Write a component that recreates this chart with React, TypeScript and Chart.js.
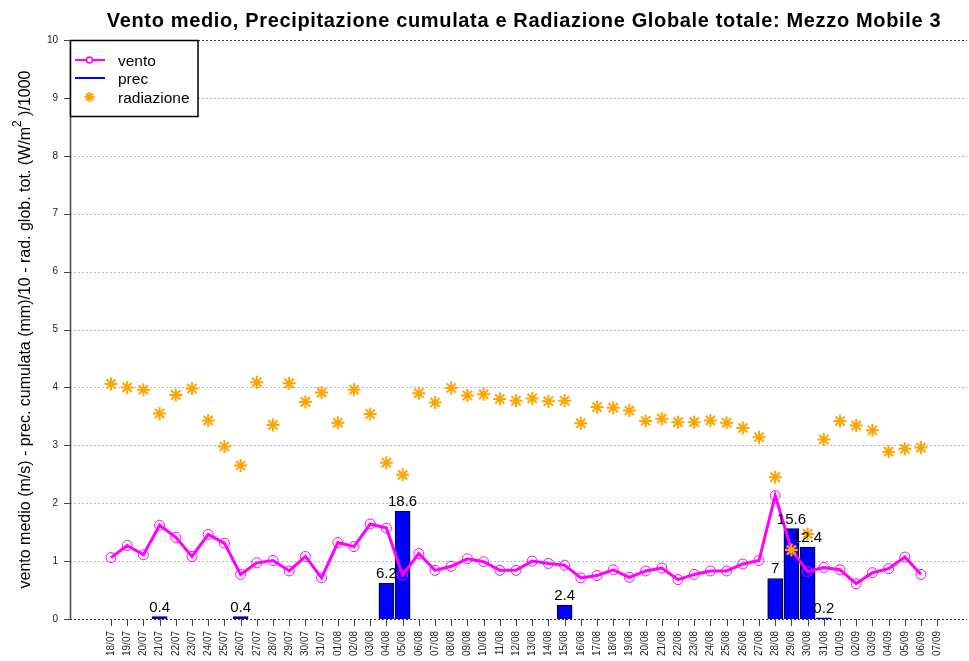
import React, { useEffect, useRef } from "react";
import { Chart, registerables } from "chart.js";

Chart.register(...registerables);

const labels = [
  "18/07", "19/07", "20/07", "21/07", "22/07", "23/07", "24/07", "25/07", "26/07", "27/07",
  "28/07", "29/07", "30/07", "31/07", "01/08", "02/08", "03/08", "04/08", "05/08", "06/08",
  "07/08", "08/08", "09/08", "10/08", "11/08", "12/08", "13/08", "14/08", "15/08", "16/08",
  "17/08", "18/08", "19/08", "20/08", "21/08", "22/08", "23/08", "24/08", "25/08", "26/08",
  "27/08", "28/08", "29/08", "30/08", "31/08", "01/09", "02/09", "03/09", "04/09", "05/09",
  "06/09", "07/09",
];

// vento medio (m/s)
const vento = [
  1.06, 1.27, 1.11, 1.62, 1.41, 1.08, 1.46, 1.31, 0.77, 0.97,
  1.01, 0.83, 1.08, 0.71, 1.32, 1.25, 1.64, 1.57, 0.76, 1.13,
  0.84, 0.91, 1.04, 0.99, 0.84, 0.84, 1.0, 0.96, 0.93, 0.71,
  0.75, 0.85, 0.72, 0.83, 0.88, 0.68, 0.77, 0.83, 0.83, 0.95,
  1.01, 2.13, 1.2, 0.82, 0.89, 0.85, 0.61, 0.8, 0.87, 1.07,
  0.77, null,
];

// precipitazione cumulata (mm)
const prec = [
  null, null, null, 0.4, null, null, null, null, 0.4, null,
  null, null, null, null, null, null, null, 6.2, 18.6, null,
  null, null, null, null, null, null, null, null, 2.4, null,
  null, null, null, null, null, null, null, null, null, null,
  null, 7, 15.6, 12.4, 0.2, null, null, null, null, null,
  null, null,
];

// radiazione globale totale (W/m2)/1000
const radiazione = [
  4.06, 4.0, 3.96, 3.55, 3.87, 3.98, 3.43, 2.98, 2.65, 4.09,
  3.35, 4.07, 3.75, 3.91, 3.39, 3.96, 3.54, 2.7, 2.49, 3.9,
  3.74, 3.99, 3.86, 3.88, 3.8, 3.77, 3.81, 3.76, 3.77, 3.38,
  3.66, 3.65, 3.6, 3.42, 3.46, 3.4, 3.4, 3.43, 3.39, 3.3,
  3.14, 2.45, 1.19, 1.47, 3.1, 3.42, 3.34, 3.26, 2.89, 2.94,
  2.96, null,
];

const yTicks = [0, 1, 2, 3, 4, 5, 6, 7, 8, 9, 10];

const TITLE = "Vento medio, Precipitazione cumulata e Radiazione Globale totale: Mezzo Mobile 3";
const Y_TITLE_A = "vento medio (m/s) - prec. cumulata (mm)/10 - rad. glob. tot. (W/m";
const Y_TITLE_SUP = "2";
const Y_TITLE_B = " )/1000";
const FONT = "'Liberation Sans', Arial, sans-serif";

const MAGENTA = "#FF00FF";
const BLUE = "#0000FF";
const ORANGE = "#FFA500";

const decorPlugin = {
  id: "decor",
  beforeDatasetsDraw(chart: any) {
    const { ctx, chartArea } = chart;
    const ys = chart.scales.y;
    const xs = chart.scales.x;
    ctx.save();
    yTicks.forEach((t) => {
      const py = Math.round(ys.getPixelForValue(t)) + 0.5;
      ctx.beginPath();
      ctx.setLineDash([2, 2]);
      ctx.lineWidth = 1;
      ctx.strokeStyle = t === 0 || t === 10 ? "#333333" : "#BBBBBB";
      ctx.moveTo(chartArea.left, py);
      ctx.lineTo(chartArea.right, py);
      ctx.stroke();
    });
    ctx.setLineDash([]);
    ctx.strokeStyle = "#444444";
    ctx.lineWidth = 1;
    yTicks.forEach((t) => {
      const py = Math.round(ys.getPixelForValue(t)) + 0.5;
      ctx.beginPath();
      ctx.moveTo(chartArea.left - 6, py);
      ctx.lineTo(chartArea.left, py);
      ctx.stroke();
    });
    labels.forEach((_, i) => {
      const px = Math.round(xs.getPixelForValue(i)) + 0.5;
      ctx.beginPath();
      ctx.moveTo(px, chartArea.bottom);
      ctx.lineTo(px, chartArea.bottom + 7);
      ctx.stroke();
    });
    ctx.beginPath();
    ctx.lineWidth = 1.5;
    ctx.moveTo(chartArea.left + 0.5, ys.getPixelForValue(10));
    ctx.lineTo(chartArea.left + 0.5, ys.getPixelForValue(0));
    ctx.stroke();
    ctx.restore();
  },
  afterDatasetsDraw(chart: any) {
    const { ctx, chartArea } = chart;
    const ys = chart.scales.y;
    const xs = chart.scales.x;
    ctx.save();
    ctx.font = `15px ${FONT}`;
    ctx.fillStyle = "#000";
    ctx.textAlign = "center";
    ctx.textBaseline = "alphabetic";
    prec.forEach((v, i) => {
      if (v === null) return;
      const px = xs.getPixelForValue(i);
      const py = ys.getPixelForValue(v / 10);
      ctx.fillText(String(v), px, py - 5);
    });

    // legend
    const lx = chartArea.left;
    const ly = chartArea.top;
    ctx.fillStyle = "#fff";
    ctx.fillRect(lx, ly, 128, 77);
    ctx.strokeStyle = "#000";
    ctx.lineWidth = 1.5;
    ctx.strokeRect(lx + 0.5, ly + 0.5, 127.5, 76);
    ctx.strokeStyle = MAGENTA;
    ctx.lineWidth = 2;
    ctx.beginPath();
    ctx.moveTo(lx + 5, ly + 20);
    ctx.lineTo(lx + 35, ly + 20);
    ctx.stroke();
    ctx.fillStyle = "#fff";
    ctx.lineWidth = 1.5;
    ctx.beginPath();
    ctx.arc(lx + 19.5, ly + 20, 3, 0, Math.PI * 2);
    ctx.fill();
    ctx.stroke();
    ctx.strokeStyle = BLUE;
    ctx.lineWidth = 2;
    ctx.beginPath();
    ctx.moveTo(lx + 5, ly + 38);
    ctx.lineTo(lx + 35, ly + 38);
    ctx.stroke();
    ctx.strokeStyle = ORANGE;
    ctx.lineWidth = 2;
    const sx = lx + 19.5;
    const sy = ly + 57;
    const r = 5;
    ctx.beginPath();
    for (let k = 0; k < 4; k++) {
      const a = (k * Math.PI) / 4;
      ctx.moveTo(sx - Math.cos(a) * r, sy - Math.sin(a) * r);
      ctx.lineTo(sx + Math.cos(a) * r, sy + Math.sin(a) * r);
    }
    ctx.stroke();
    ctx.fillStyle = "#000";
    ctx.font = `15.5px ${FONT}`;
    ctx.textAlign = "left";
    ctx.textBaseline = "alphabetic";
    ctx.fillText("vento", lx + 48, ly + 25.5);
    ctx.fillText("prec", lx + 48, ly + 44);
    ctx.fillText("radiazione", lx + 48, ly + 63);
    ctx.restore();
  },
  afterDraw(chart: any) {
    const { ctx, chartArea } = chart;
    ctx.save();
    ctx.fillStyle = "#000";
    ctx.font = `bold 20px ${FONT}`;
    (ctx as any).letterSpacing = "0.65px";
    ctx.textAlign = "center";
    ctx.textBaseline = "alphabetic";
    ctx.fillText(TITLE, 524, 27);
    (ctx as any).letterSpacing = "0px";
    const yFont = `16px ${FONT}`;
    const supFont = `12px ${FONT}`;
    ctx.font = yFont;
    const wA = ctx.measureText(Y_TITLE_A).width;
    const wB = ctx.measureText(Y_TITLE_B).width;
    ctx.font = supFont;
    const wS = ctx.measureText(Y_TITLE_SUP).width;
    const total = wA + wS + wB;
    ctx.translate(30, (chartArea.top + chartArea.bottom) / 2);
    ctx.rotate(-Math.PI / 2);
    ctx.textAlign = "left";
    ctx.textBaseline = "alphabetic";
    let cx = -total / 2;
    ctx.font = yFont;
    ctx.fillText(Y_TITLE_A, cx, 0);
    cx += wA;
    ctx.font = supFont;
    ctx.fillText(Y_TITLE_SUP, cx, -9);
    cx += wS;
    ctx.font = yFont;
    ctx.fillText(Y_TITLE_B, cx, 0);
    ctx.restore();
  },
};

export default function App() {
  const canvasRef = useRef<HTMLCanvasElement | null>(null);

  useEffect(() => {
    if (!canvasRef.current) return;
    const spacing = 16.2;
    const left = 70;
    const right = 967;
    const first = 111;
    const xMin = -(first - left) / spacing;
    const xMax = xMin + (right - left) / spacing;

    const chart = new Chart(canvasRef.current, {
      type: "bar",
      data: {
        datasets: [
          {
            type: "bar",
            label: "prec",
            data: prec.map((v, i) => (v === null ? null : { x: i, y: v / 10 })).filter((d) => d !== null) as any,
            backgroundColor: BLUE,
            borderColor: "#000",
            borderWidth: 1,
            barThickness: 15,
            order: 3,
          } as any,
          {
            type: "line",
            label: "vento",
            data: vento.map((v, i) => ({ x: i, y: v })) as any,
            borderColor: MAGENTA,
            borderWidth: 3,
            pointRadius: 5,
            pointBorderWidth: 1,
            pointBorderColor: MAGENTA,
            pointBackgroundColor: "rgba(0,0,0,0)",
            tension: 0,
            spanGaps: false,
            order: 2,
          } as any,
          {
            type: "line",
            label: "radiazione",
            data: radiazione.map((v, i) => ({ x: i, y: v })) as any,
            showLine: false,
            pointStyle: "star",
            pointRadius: 6.5,
            pointBorderWidth: 2,
            pointBorderColor: ORANGE,
            pointBackgroundColor: ORANGE,
            order: 1,
          } as any,
        ],
      },
      options: {
        responsive: false,
        animation: false,
        devicePixelRatio: 1,
        layout: { autoPadding: false, padding: { left: 0, right: 2, top: 40, bottom: 0 } },
        plugins: {
          legend: { display: false },
          title: { display: false },
          tooltip: { enabled: false },
        },
        scales: {
          x: {
            type: "linear",
            min: xMin,
            max: xMax,
            offset: false,
            bounds: "data",
            grid: { display: false, offset: false },
            border: { display: false },
            afterBuildTicks: (scale: any) => {
              scale.ticks = labels.map((_, i) => ({ value: i }));
            },
            afterFit: (scale: any) => {
              scale.height = 42;
              scale.paddingLeft = 0;
              scale.paddingRight = 0;
              scale.paddingTop = 0;
              scale.paddingBottom = 0;
            },
            ticks: {
              autoSkip: false,
              minRotation: 90,
              maxRotation: 90,
              padding: 4,
              color: "#222",
              font: { family: FONT, size: 10 },
              callback: (_v: any, idx: number) => labels[idx],
            },
          },
          y: {
            type: "linear",
            min: 0,
            max: 10,
            grid: { display: false, drawTicks: false },
            border: { display: false },
            afterBuildTicks: (scale: any) => {
              scale.ticks = yTicks.map((v) => ({ value: v }));
            },
            afterFit: (scale: any) => {
              scale.width = 70;
            },
            ticks: {
              padding: 12,
              color: "#222",
              font: { family: FONT, size: 10 },
              callback: (v: any) => String(v),
            },
          },
        },
      },
      plugins: [decorPlugin],
    });
    return () => chart.destroy();
  }, []);

  return (
    <div style={{ position: "fixed", left: 0, top: 0, width: 969, height: 661, background: "#fff" }}>
      <canvas ref={canvasRef} width={969} height={661} />
    </div>
  );
}
